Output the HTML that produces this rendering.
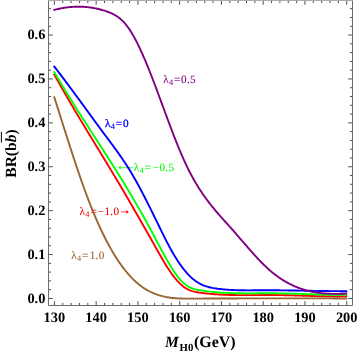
<!DOCTYPE html>
<html><head><meta charset="utf-8"><title>BR plot</title>
<style>
html,body{margin:0;padding:0;background:#fff;}
body{width:357px;height:353px;overflow:hidden;font-family:"Liberation Serif",serif;}
svg{display:block;will-change:transform;}
text{text-rendering:geometricPrecision;}
</style></head><body>
<svg width="357" height="353" viewBox="0 0 357 353">
<rect width="357" height="353" fill="#fff"/>
<text y="82.8" fill="#800080" stroke="#800080" stroke-width="0.08" font-family="Liberation Serif" font-size="11.2"><tspan x="163.21">λ</tspan><tspan x="169.00" dy="1.75" font-size="8.3" stroke-width="0.04">4</tspan><tspan x="174.10" dy="-1.75" stroke-width="0.08">=</tspan><tspan x="181.00" letter-spacing="0.3">0.5</tspan></text>
<text y="127.1" fill="#0000ff" stroke="#0000ff" stroke-width="0.3" font-family="Liberation Serif" font-size="11.2"><tspan x="104.91">λ</tspan><tspan x="110.70" dy="1.75" font-size="8.3" stroke-width="0.15">4</tspan><tspan x="115.80" dy="-1.75" stroke-width="0.3">=</tspan><tspan x="123.00" letter-spacing="0.3">0</tspan></text>
<text y="170.8" fill="#00ff00" stroke="#00ff00" stroke-width="0.08" font-family="Liberation Serif" font-size="11.2"><tspan x="133.71">λ</tspan><tspan x="139.50" dy="1.75" font-size="8.3" stroke-width="0.04">4</tspan><tspan x="144.60" dy="-1.75" stroke-width="0.08">=</tspan><tspan x="152.85" letter-spacing="0.3">−0.5</tspan></text>
<path d="M119.40,167.7 H132.80" stroke="#00ff00" stroke-width="0.8" fill="none"/><path d="M118.20,167.7 L121.20,165.60 L120.30,167.7 L121.20,169.80 Z" fill="#00ff00"/>
<text y="214.8" fill="#ff0000" stroke="#ff0000" stroke-width="0.08" font-family="Liberation Serif" font-size="11.2"><tspan x="79.51">λ</tspan><tspan x="85.30" dy="1.75" font-size="8.3" stroke-width="0.04">4</tspan><tspan x="90.40" dy="-1.75" stroke-width="0.08">=</tspan><tspan x="97.85" letter-spacing="0.3">−1.0</tspan></text>
<path d="M121.10,211.9 H127.70" stroke="#ff0000" stroke-width="0.8" fill="none"/><path d="M128.90,211.9 L125.90,209.80 L126.80,211.9 L125.90,214.00 Z" fill="#ff0000"/>
<text y="258.8" fill="#996633" stroke="#996633" stroke-width="0.08" font-family="Liberation Serif" font-size="11.2"><tspan x="71.21">λ</tspan><tspan x="77.00" dy="1.75" font-size="8.3" stroke-width="0.04">4</tspan><tspan x="82.10" dy="-1.75" stroke-width="0.08">=</tspan><tspan x="89.70" letter-spacing="0.3">1.0</tspan></text>
<path d="M54.3,74.59 L55.3,76.40 L56.3,78.20 L57.3,80.00 L58.3,81.78 L59.3,83.56 L60.3,85.33 L61.3,87.10 L62.3,88.85 L63.3,90.61 L64.3,92.35 L65.3,94.09 L66.3,95.82 L67.3,97.55 L68.3,99.27 L69.3,100.98 L70.3,102.69 L71.3,104.40 L72.3,106.10 L73.3,107.79 L74.3,109.48 L75.3,111.17 L76.3,112.85 L77.3,114.53 L78.3,116.21 L79.3,117.88 L80.3,119.55 L81.3,121.21 L82.3,122.87 L83.3,124.53 L84.3,126.19 L85.3,127.84 L86.3,129.50 L87.3,131.15 L88.3,132.79 L89.3,134.44 L90.3,136.09 L91.3,137.73 L92.3,139.37 L93.3,141.01 L94.3,142.65 L95.3,144.29 L96.3,145.93 L97.3,147.58 L98.3,149.22 L99.3,150.86 L100.3,152.50 L101.3,154.14 L102.3,155.78 L103.3,157.42 L104.3,159.07 L105.3,160.71 L106.3,162.36 L107.3,164.01 L108.3,165.66 L109.3,167.31 L110.3,168.97 L111.3,170.63 L112.3,172.29 L113.3,173.95 L114.3,175.62 L115.3,177.29 L116.3,178.96 L117.3,180.64 L118.3,182.32 L119.3,184.01 L120.3,185.69 L121.3,187.39 L122.3,189.08 L123.3,190.78 L124.3,192.49 L125.3,194.19 L126.3,195.91 L127.3,197.62 L128.3,199.34 L129.3,201.06 L130.3,202.78 L131.3,204.51 L132.3,206.24 L133.3,207.97 L134.3,209.70 L135.3,211.44 L136.3,213.18 L137.3,214.93 L138.3,216.67 L139.3,218.42 L140.3,220.17 L141.3,221.93 L142.3,223.68 L143.3,225.44 L144.3,227.20 L145.3,228.96 L146.3,230.73 L147.3,232.49 L148.3,234.26 L149.3,236.03 L150.3,237.80 L151.3,239.57 L152.3,241.35 L153.3,243.12 L154.3,244.90 L155.3,246.68 L156.3,248.46 L157.3,250.24 L158.3,252.01 L159.3,253.78 L160.3,255.53 L161.3,257.28 L162.3,259.00 L163.3,260.71 L164.3,262.38 L165.3,264.04 L166.3,265.66 L167.3,267.25 L168.3,268.80 L169.3,270.31 L170.3,271.78 L171.3,273.21 L172.3,274.59 L173.3,275.93 L174.3,277.23 L175.3,278.47 L176.3,279.67 L177.3,280.81 L178.3,281.90 L179.3,282.93 L180.3,283.91 L181.3,284.83 L182.3,285.69 L183.3,286.49 L184.3,287.22 L185.3,287.89 L186.3,288.50 L187.3,289.06 L188.3,289.56 L189.3,290.01 L190.3,290.42 L191.3,290.78 L192.3,291.11 L193.3,291.40 L194.3,291.66 L195.3,291.89 L196.3,292.09 L197.3,292.27 L198.3,292.44 L199.3,292.59 L200.3,292.73 L201.3,292.86 L202.3,292.99 L203.3,293.12 L204.3,293.23 L205.3,293.35 L206.3,293.46 L207.3,293.56 L208.3,293.66 L209.3,293.76 L210.3,293.85 L211.3,293.94 L212.3,294.03 L213.3,294.11 L214.3,294.18 L215.3,294.25 L216.3,294.32 L217.3,294.39 L218.3,294.45 L219.3,294.51 L220.3,294.57 L221.3,294.62 L222.3,294.67 L223.3,294.71 L224.3,294.76 L225.3,294.80 L226.3,294.83 L227.3,294.87 L228.3,294.90 L229.3,294.93 L230.3,294.96 L231.3,294.98 L232.3,295.01 L233.3,295.03 L234.3,295.04 L235.3,295.06 L236.3,295.08 L237.3,295.09 L238.3,295.10 L239.3,295.11 L240.3,295.12 L241.3,295.12 L242.3,295.13 L243.3,295.13 L244.3,295.13 L245.3,295.13 L246.3,295.13 L247.3,295.13 L248.3,295.13 L249.3,295.13 L250.3,295.12 L251.3,295.12 L252.3,295.11 L253.3,295.11 L254.3,295.10 L255.3,295.10 L256.3,295.09 L257.3,295.09 L258.3,295.08 L259.3,295.07 L260.3,295.07 L261.3,295.06 L262.3,295.06 L263.3,295.05 L264.3,295.05 L265.3,295.04 L266.3,295.04 L267.3,295.04 L268.3,295.04 L269.3,295.03 L270.3,295.03 L271.3,295.04 L272.3,295.04 L273.3,295.04 L274.3,295.05 L275.3,295.05 L276.3,295.06 L277.3,295.07 L278.3,295.08 L279.3,295.10 L280.3,295.11 L281.3,295.13 L282.3,295.14 L283.3,295.16 L284.3,295.18 L285.3,295.20 L286.3,295.22 L287.3,295.25 L288.3,295.27 L289.3,295.30 L290.3,295.32 L291.3,295.35 L292.3,295.38 L293.3,295.41 L294.3,295.44 L295.3,295.47 L296.3,295.50 L297.3,295.53 L298.3,295.56 L299.3,295.59 L300.3,295.62 L301.3,295.65 L302.3,295.68 L303.3,295.72 L304.3,295.75 L305.3,295.78 L306.3,295.81 L307.3,295.85 L308.3,295.88 L309.3,295.91 L310.3,295.94 L311.3,295.97 L312.3,296.00 L313.3,296.03 L314.3,296.06 L315.3,296.09 L316.3,296.12 L317.3,296.15 L318.3,296.17 L319.3,296.20 L320.3,296.22 L321.3,296.25 L322.3,296.27 L323.3,296.29 L324.3,296.31 L325.3,296.33 L326.3,296.35 L327.3,296.36 L328.3,296.38 L329.3,296.39 L330.3,296.40 L331.3,296.41 L332.3,296.42 L333.3,296.43 L334.3,296.43 L335.3,296.44 L336.3,296.44 L337.3,296.44 L338.3,296.43 L339.3,296.43 L340.3,296.42 L341.3,296.41 L342.3,296.40 L343.3,296.39 L344.3,296.37 L345.3,296.35 L346.3,296.33" fill="none" stroke="#ff0000" stroke-width="1.9" stroke-linejoin="round" stroke-linecap="square"/>
<path d="M54.3,72.08 L55.3,73.79 L56.3,75.50 L57.3,77.20 L58.3,78.89 L59.3,80.57 L60.3,82.25 L61.3,83.91 L62.3,85.58 L63.3,87.23 L64.3,88.88 L65.3,90.52 L66.3,92.16 L67.3,93.79 L68.3,95.41 L69.3,97.03 L70.3,98.65 L71.3,100.26 L72.3,101.86 L73.3,103.46 L74.3,105.06 L75.3,106.65 L76.3,108.24 L77.3,109.82 L78.3,111.40 L79.3,112.98 L80.3,114.55 L81.3,116.12 L82.3,117.69 L83.3,119.25 L84.3,120.82 L85.3,122.38 L86.3,123.94 L87.3,125.49 L88.3,127.05 L89.3,128.60 L90.3,130.16 L91.3,131.71 L92.3,133.26 L93.3,134.81 L94.3,136.36 L95.3,137.91 L96.3,139.46 L97.3,141.02 L98.3,142.57 L99.3,144.12 L100.3,145.67 L101.3,147.23 L102.3,148.78 L103.3,150.34 L104.3,151.90 L105.3,153.46 L106.3,155.02 L107.3,156.59 L108.3,158.16 L109.3,159.73 L110.3,161.30 L111.3,162.88 L112.3,164.46 L113.3,166.04 L114.3,167.63 L115.3,169.22 L116.3,170.81 L117.3,172.41 L118.3,174.02 L119.3,175.63 L120.3,177.24 L121.3,178.86 L122.3,180.48 L123.3,182.11 L124.3,183.75 L125.3,185.39 L126.3,187.04 L127.3,188.69 L128.3,190.36 L129.3,192.02 L130.3,193.70 L131.3,195.38 L132.3,197.07 L133.3,198.77 L134.3,200.47 L135.3,202.18 L136.3,203.91 L137.3,205.63 L138.3,207.37 L139.3,209.12 L140.3,210.88 L141.3,212.64 L142.3,214.42 L143.3,216.20 L144.3,217.99 L145.3,219.80 L146.3,221.61 L147.3,223.44 L148.3,225.27 L149.3,227.12 L150.3,228.98 L151.3,230.85 L152.3,232.73 L153.3,234.61 L154.3,236.51 L155.3,238.41 L156.3,240.31 L157.3,242.21 L158.3,244.10 L159.3,245.99 L160.3,247.87 L161.3,249.75 L162.3,251.60 L163.3,253.44 L164.3,255.27 L165.3,257.07 L166.3,258.85 L167.3,260.61 L168.3,262.33 L169.3,264.03 L170.3,265.69 L171.3,267.32 L172.3,268.90 L173.3,270.45 L174.3,271.94 L175.3,273.39 L176.3,274.79 L177.3,276.13 L178.3,277.42 L179.3,278.64 L180.3,279.80 L181.3,280.90 L182.3,281.92 L183.3,282.88 L184.3,283.75 L185.3,284.56 L186.3,285.29 L187.3,285.95 L188.3,286.55 L189.3,287.09 L190.3,287.57 L191.3,288.01 L192.3,288.40 L193.3,288.74 L194.3,289.05 L195.3,289.32 L196.3,289.57 L197.3,289.79 L198.3,289.98 L199.3,290.16 L200.3,290.33 L201.3,290.49 L202.3,290.64 L203.3,290.79 L204.3,290.93 L205.3,291.07 L206.3,291.20 L207.3,291.33 L208.3,291.45 L209.3,291.57 L210.3,291.68 L211.3,291.79 L212.3,291.89 L213.3,291.99 L214.3,292.08 L215.3,292.17 L216.3,292.26 L217.3,292.34 L218.3,292.42 L219.3,292.49 L220.3,292.56 L221.3,292.63 L222.3,292.69 L223.3,292.75 L224.3,292.80 L225.3,292.85 L226.3,292.90 L227.3,292.95 L228.3,292.99 L229.3,293.03 L230.3,293.07 L231.3,293.10 L232.3,293.13 L233.3,293.16 L234.3,293.18 L235.3,293.21 L236.3,293.23 L237.3,293.25 L238.3,293.27 L239.3,293.28 L240.3,293.29 L241.3,293.30 L242.3,293.31 L243.3,293.32 L244.3,293.33 L245.3,293.33 L246.3,293.34 L247.3,293.34 L248.3,293.34 L249.3,293.34 L250.3,293.34 L251.3,293.34 L252.3,293.34 L253.3,293.33 L254.3,293.33 L255.3,293.33 L256.3,293.32 L257.3,293.32 L258.3,293.31 L259.3,293.31 L260.3,293.31 L261.3,293.30 L262.3,293.30 L263.3,293.29 L264.3,293.29 L265.3,293.29 L266.3,293.28 L267.3,293.28 L268.3,293.28 L269.3,293.28 L270.3,293.28 L271.3,293.28 L272.3,293.29 L273.3,293.29 L274.3,293.30 L275.3,293.31 L276.3,293.31 L277.3,293.33 L278.3,293.34 L279.3,293.35 L280.3,293.37 L281.3,293.39 L282.3,293.40 L283.3,293.42 L284.3,293.45 L285.3,293.47 L286.3,293.49 L287.3,293.52 L288.3,293.54 L289.3,293.57 L290.3,293.60 L291.3,293.63 L292.3,293.66 L293.3,293.69 L294.3,293.72 L295.3,293.75 L296.3,293.78 L297.3,293.81 L298.3,293.85 L299.3,293.88 L300.3,293.91 L301.3,293.95 L302.3,293.98 L303.3,294.02 L304.3,294.05 L305.3,294.09 L306.3,294.12 L307.3,294.15 L308.3,294.19 L309.3,294.22 L310.3,294.25 L311.3,294.28 L312.3,294.32 L313.3,294.35 L314.3,294.38 L315.3,294.41 L316.3,294.44 L317.3,294.47 L318.3,294.49 L319.3,294.52 L320.3,294.55 L321.3,294.57 L322.3,294.59 L323.3,294.61 L324.3,294.63 L325.3,294.65 L326.3,294.67 L327.3,294.69 L328.3,294.70 L329.3,294.72 L330.3,294.73 L331.3,294.74 L332.3,294.74 L333.3,294.75 L334.3,294.75 L335.3,294.76 L336.3,294.75 L337.3,294.75 L338.3,294.75 L339.3,294.74 L340.3,294.73 L341.3,294.72 L342.3,294.71 L343.3,294.69 L344.3,294.67 L345.3,294.65 L346.3,294.62" fill="none" stroke="#00ff00" stroke-width="1.9" stroke-linejoin="round" stroke-linecap="square"/>
<path d="M54.3,66.59 L55.3,67.88 L56.3,69.17 L57.3,70.47 L58.3,71.77 L59.3,73.08 L60.3,74.39 L61.3,75.70 L62.3,77.02 L63.3,78.34 L64.3,79.67 L65.3,81.00 L66.3,82.33 L67.3,83.67 L68.3,85.01 L69.3,86.36 L70.3,87.70 L71.3,89.05 L72.3,90.40 L73.3,91.76 L74.3,93.11 L75.3,94.47 L76.3,95.83 L77.3,97.19 L78.3,98.56 L79.3,99.92 L80.3,101.29 L81.3,102.65 L82.3,104.02 L83.3,105.39 L84.3,106.76 L85.3,108.13 L86.3,109.50 L87.3,110.87 L88.3,112.25 L89.3,113.62 L90.3,114.99 L91.3,116.36 L92.3,117.73 L93.3,119.10 L94.3,120.46 L95.3,121.83 L96.3,123.20 L97.3,124.56 L98.3,125.92 L99.3,127.28 L100.3,128.64 L101.3,130.00 L102.3,131.35 L103.3,132.71 L104.3,134.06 L105.3,135.40 L106.3,136.75 L107.3,138.09 L108.3,139.43 L109.3,140.77 L110.3,142.11 L111.3,143.45 L112.3,144.79 L113.3,146.14 L114.3,147.50 L115.3,148.86 L116.3,150.23 L117.3,151.61 L118.3,153.01 L119.3,154.41 L120.3,155.83 L121.3,157.27 L122.3,158.72 L123.3,160.19 L124.3,161.68 L125.3,163.19 L126.3,164.73 L127.3,166.29 L128.3,167.87 L129.3,169.48 L130.3,171.11 L131.3,172.78 L132.3,174.47 L133.3,176.19 L134.3,177.93 L135.3,179.70 L136.3,181.49 L137.3,183.30 L138.3,185.13 L139.3,186.99 L140.3,188.86 L141.3,190.75 L142.3,192.66 L143.3,194.58 L144.3,196.52 L145.3,198.47 L146.3,200.44 L147.3,202.41 L148.3,204.40 L149.3,206.40 L150.3,208.41 L151.3,210.43 L152.3,212.45 L153.3,214.48 L154.3,216.52 L155.3,218.56 L156.3,220.60 L157.3,222.65 L158.3,224.69 L159.3,226.74 L160.3,228.78 L161.3,230.82 L162.3,232.85 L163.3,234.87 L164.3,236.87 L165.3,238.85 L166.3,240.81 L167.3,242.74 L168.3,244.65 L169.3,246.53 L170.3,248.37 L171.3,250.18 L172.3,251.94 L173.3,253.67 L174.3,255.36 L175.3,257.01 L176.3,258.62 L177.3,260.19 L178.3,261.72 L179.3,263.20 L180.3,264.64 L181.3,266.04 L182.3,267.40 L183.3,268.71 L184.3,269.98 L185.3,271.20 L186.3,272.38 L187.3,273.51 L188.3,274.59 L189.3,275.62 L190.3,276.61 L191.3,277.55 L192.3,278.43 L193.3,279.27 L194.3,280.06 L195.3,280.81 L196.3,281.50 L197.3,282.16 L198.3,282.77 L199.3,283.34 L200.3,283.87 L201.3,284.37 L202.3,284.83 L203.3,285.26 L204.3,285.66 L205.3,286.02 L206.3,286.36 L207.3,286.67 L208.3,286.96 L209.3,287.22 L210.3,287.46 L211.3,287.68 L212.3,287.89 L213.3,288.07 L214.3,288.25 L215.3,288.40 L216.3,288.55 L217.3,288.69 L218.3,288.82 L219.3,288.94 L220.3,289.06 L221.3,289.17 L222.3,289.27 L223.3,289.37 L224.3,289.46 L225.3,289.55 L226.3,289.63 L227.3,289.70 L228.3,289.77 L229.3,289.84 L230.3,289.90 L231.3,289.95 L232.3,290.00 L233.3,290.05 L234.3,290.09 L235.3,290.13 L236.3,290.16 L237.3,290.19 L238.3,290.22 L239.3,290.24 L240.3,290.26 L241.3,290.28 L242.3,290.29 L243.3,290.30 L244.3,290.31 L245.3,290.32 L246.3,290.33 L247.3,290.33 L248.3,290.33 L249.3,290.33 L250.3,290.33 L251.3,290.33 L252.3,290.32 L253.3,290.32 L254.3,290.31 L255.3,290.31 L256.3,290.30 L257.3,290.29 L258.3,290.29 L259.3,290.28 L260.3,290.28 L261.3,290.27 L262.3,290.27 L263.3,290.26 L264.3,290.26 L265.3,290.26 L266.3,290.26 L267.3,290.26 L268.3,290.26 L269.3,290.26 L270.3,290.26 L271.3,290.27 L272.3,290.27 L273.3,290.27 L274.3,290.28 L275.3,290.29 L276.3,290.29 L277.3,290.30 L278.3,290.31 L279.3,290.32 L280.3,290.33 L281.3,290.34 L282.3,290.35 L283.3,290.36 L284.3,290.37 L285.3,290.39 L286.3,290.40 L287.3,290.41 L288.3,290.43 L289.3,290.44 L290.3,290.46 L291.3,290.47 L292.3,290.49 L293.3,290.50 L294.3,290.52 L295.3,290.54 L296.3,290.55 L297.3,290.57 L298.3,290.59 L299.3,290.60 L300.3,290.62 L301.3,290.64 L302.3,290.65 L303.3,290.67 L304.3,290.69 L305.3,290.71 L306.3,290.73 L307.3,290.74 L308.3,290.76 L309.3,290.78 L310.3,290.80 L311.3,290.81 L312.3,290.83 L313.3,290.85 L314.3,290.87 L315.3,290.88 L316.3,290.90 L317.3,290.92 L318.3,290.93 L319.3,290.95 L320.3,290.96 L321.3,290.98 L322.3,290.99 L323.3,291.01 L324.3,291.02 L325.3,291.04 L326.3,291.05 L327.3,291.06 L328.3,291.07 L329.3,291.09 L330.3,291.10 L331.3,291.11 L332.3,291.12 L333.3,291.13 L334.3,291.14 L335.3,291.14 L336.3,291.15 L337.3,291.16 L338.3,291.16 L339.3,291.17 L340.3,291.18 L341.3,291.18 L342.3,291.18 L343.3,291.18 L344.3,291.19 L345.3,291.19 L346.3,291.19" fill="none" stroke="#0000ff" stroke-width="1.9" stroke-linejoin="round" stroke-linecap="square"/>
<path d="M54.3,9.93 L55.3,9.67 L56.3,9.42 L57.3,9.18 L58.3,8.96 L59.3,8.74 L60.3,8.53 L61.3,8.34 L62.3,8.15 L63.3,7.98 L64.3,7.81 L65.3,7.66 L66.3,7.52 L67.3,7.39 L68.3,7.27 L69.3,7.16 L70.3,7.06 L71.3,6.97 L72.3,6.90 L73.3,6.83 L74.3,6.78 L75.3,6.74 L76.3,6.70 L77.3,6.68 L78.3,6.68 L79.3,6.68 L80.3,6.69 L81.3,6.72 L82.3,6.76 L83.3,6.81 L84.3,6.87 L85.3,6.94 L86.3,7.03 L87.3,7.12 L88.3,7.23 L89.3,7.35 L90.3,7.49 L91.3,7.63 L92.3,7.79 L93.3,7.96 L94.3,8.14 L95.3,8.33 L96.3,8.54 L97.3,8.76 L98.3,8.99 L99.3,9.24 L100.3,9.49 L101.3,9.76 L102.3,10.04 L103.3,10.34 L104.3,10.65 L105.3,10.97 L106.3,11.30 L107.3,11.65 L108.3,12.01 L109.3,12.40 L110.3,12.81 L111.3,13.24 L112.3,13.70 L113.3,14.20 L114.3,14.73 L115.3,15.31 L116.3,15.92 L117.3,16.58 L118.3,17.29 L119.3,18.05 L120.3,18.86 L121.3,19.73 L122.3,20.66 L123.3,21.66 L124.3,22.72 L125.3,23.86 L126.3,25.07 L127.3,26.35 L128.3,27.71 L129.3,29.15 L130.3,30.66 L131.3,32.25 L132.3,33.90 L133.3,35.62 L134.3,37.41 L135.3,39.26 L136.3,41.16 L137.3,43.13 L138.3,45.15 L139.3,47.23 L140.3,49.36 L141.3,51.54 L142.3,53.76 L143.3,56.03 L144.3,58.35 L145.3,60.70 L146.3,63.10 L147.3,65.53 L148.3,67.99 L149.3,70.48 L150.3,73.01 L151.3,75.56 L152.3,78.14 L153.3,80.74 L154.3,83.36 L155.3,86.00 L156.3,88.66 L157.3,91.33 L158.3,94.02 L159.3,96.71 L160.3,99.41 L161.3,102.12 L162.3,104.83 L163.3,107.54 L164.3,110.25 L165.3,112.96 L166.3,115.66 L167.3,118.35 L168.3,121.03 L169.3,123.70 L170.3,126.36 L171.3,129.00 L172.3,131.62 L173.3,134.22 L174.3,136.80 L175.3,139.35 L176.3,141.88 L177.3,144.37 L178.3,146.84 L179.3,149.26 L180.3,151.66 L181.3,154.01 L182.3,156.32 L183.3,158.59 L184.3,160.82 L185.3,162.99 L186.3,165.12 L187.3,167.20 L188.3,169.23 L189.3,171.22 L190.3,173.15 L191.3,175.05 L192.3,176.90 L193.3,178.70 L194.3,180.47 L195.3,182.20 L196.3,183.89 L197.3,185.54 L198.3,187.16 L199.3,188.74 L200.3,190.29 L201.3,191.80 L202.3,193.29 L203.3,194.75 L204.3,196.17 L205.3,197.57 L206.3,198.95 L207.3,200.30 L208.3,201.62 L209.3,202.92 L210.3,204.21 L211.3,205.47 L212.3,206.71 L213.3,207.94 L214.3,209.15 L215.3,210.34 L216.3,211.52 L217.3,212.69 L218.3,213.85 L219.3,215.00 L220.3,216.14 L221.3,217.27 L222.3,218.39 L223.3,219.51 L224.3,220.63 L225.3,221.74 L226.3,222.85 L227.3,223.96 L228.3,225.07 L229.3,226.19 L230.3,227.31 L231.3,228.43 L232.3,229.56 L233.3,230.69 L234.3,231.84 L235.3,232.98 L236.3,234.13 L237.3,235.29 L238.3,236.44 L239.3,237.60 L240.3,238.76 L241.3,239.93 L242.3,241.09 L243.3,242.25 L244.3,243.41 L245.3,244.57 L246.3,245.72 L247.3,246.88 L248.3,248.02 L249.3,249.17 L250.3,250.30 L251.3,251.43 L252.3,252.56 L253.3,253.67 L254.3,254.78 L255.3,255.88 L256.3,256.97 L257.3,258.04 L258.3,259.11 L259.3,260.16 L260.3,261.20 L261.3,262.23 L262.3,263.24 L263.3,264.24 L264.3,265.22 L265.3,266.19 L266.3,267.14 L267.3,268.07 L268.3,268.98 L269.3,269.87 L270.3,270.75 L271.3,271.60 L272.3,272.43 L273.3,273.24 L274.3,274.04 L275.3,274.81 L276.3,275.56 L277.3,276.30 L278.3,277.01 L279.3,277.71 L280.3,278.39 L281.3,279.05 L282.3,279.70 L283.3,280.32 L284.3,280.93 L285.3,281.53 L286.3,282.10 L287.3,282.66 L288.3,283.20 L289.3,283.72 L290.3,284.23 L291.3,284.72 L292.3,285.20 L293.3,285.66 L294.3,286.11 L295.3,286.54 L296.3,286.96 L297.3,287.36 L298.3,287.75 L299.3,288.12 L300.3,288.48 L301.3,288.82 L302.3,289.15 L303.3,289.47 L304.3,289.78 L305.3,290.07 L306.3,290.35 L307.3,290.62 L308.3,290.87 L309.3,291.11 L310.3,291.34 L311.3,291.56 L312.3,291.77 L313.3,291.97 L314.3,292.15 L315.3,292.33 L316.3,292.49 L317.3,292.64 L318.3,292.79 L319.3,292.92 L320.3,293.04 L321.3,293.16 L322.3,293.26 L323.3,293.36 L324.3,293.45 L325.3,293.53 L326.3,293.60 L327.3,293.66 L328.3,293.71 L329.3,293.76 L330.3,293.80 L331.3,293.83 L332.3,293.85 L333.3,293.87 L334.3,293.88 L335.3,293.88 L336.3,293.88 L337.3,293.87 L338.3,293.86 L339.3,293.84 L340.3,293.81 L341.3,293.78 L342.3,293.75 L343.3,293.71 L344.3,293.66 L345.3,293.61 L346.3,293.56" fill="none" stroke="#800080" stroke-width="1.9" stroke-linejoin="round" stroke-linecap="square"/>
<path d="M54.3,97.27 L55.3,100.40 L56.3,103.55 L57.3,106.69 L58.3,109.85 L59.3,113.00 L60.3,116.16 L61.3,119.32 L62.3,122.47 L63.3,125.62 L64.3,128.77 L65.3,131.91 L66.3,135.05 L67.3,138.18 L68.3,141.30 L69.3,144.41 L70.3,147.50 L71.3,150.58 L72.3,153.65 L73.3,156.70 L74.3,159.73 L75.3,162.75 L76.3,165.74 L77.3,168.71 L78.3,171.66 L79.3,174.59 L80.3,177.49 L81.3,180.36 L82.3,183.20 L83.3,186.01 L84.3,188.79 L85.3,191.54 L86.3,194.26 L87.3,196.94 L88.3,199.58 L89.3,202.18 L90.3,204.75 L91.3,207.28 L92.3,209.76 L93.3,212.21 L94.3,214.61 L95.3,216.98 L96.3,219.31 L97.3,221.59 L98.3,223.84 L99.3,226.05 L100.3,228.22 L101.3,230.36 L102.3,232.45 L103.3,234.51 L104.3,236.53 L105.3,238.51 L106.3,240.45 L107.3,242.36 L108.3,244.23 L109.3,246.06 L110.3,247.86 L111.3,249.62 L112.3,251.34 L113.3,253.03 L114.3,254.68 L115.3,256.29 L116.3,257.87 L117.3,259.41 L118.3,260.92 L119.3,262.39 L120.3,263.83 L121.3,265.23 L122.3,266.60 L123.3,267.93 L124.3,269.23 L125.3,270.50 L126.3,271.73 L127.3,272.93 L128.3,274.09 L129.3,275.22 L130.3,276.32 L131.3,277.38 L132.3,278.42 L133.3,279.41 L134.3,280.38 L135.3,281.31 L136.3,282.22 L137.3,283.09 L138.3,283.92 L139.3,284.73 L140.3,285.51 L141.3,286.26 L142.3,286.98 L143.3,287.67 L144.3,288.34 L145.3,288.97 L146.3,289.58 L147.3,290.17 L148.3,290.72 L149.3,291.26 L150.3,291.77 L151.3,292.25 L152.3,292.72 L153.3,293.15 L154.3,293.57 L155.3,293.97 L156.3,294.34 L157.3,294.70 L158.3,295.03 L159.3,295.35 L160.3,295.64 L161.3,295.92 L162.3,296.18 L163.3,296.43 L164.3,296.65 L165.3,296.87 L166.3,297.06 L167.3,297.24 L168.3,297.41 L169.3,297.56 L170.3,297.70 L171.3,297.83 L172.3,297.95 L173.3,298.05 L174.3,298.15 L175.3,298.23 L176.3,298.30 L177.3,298.37 L178.3,298.42 L179.3,298.47 L180.3,298.51 L181.3,298.55 L182.3,298.57 L183.3,298.59 L184.3,298.61 L185.3,298.62 L186.3,298.63 L187.3,298.63 L188.3,298.64 L189.3,298.64 L190.3,298.63 L191.3,298.63 L192.3,298.62 L193.3,298.62 L194.3,298.61 L195.3,298.61 L196.3,298.60 L197.3,298.60 L198.3,298.59 L199.3,298.59 L200.3,298.59 L201.3,298.58 L202.3,298.58 L203.3,298.57 L204.3,298.57 L205.3,298.56 L206.3,298.56 L207.3,298.55 L208.3,298.55 L209.3,298.54 L210.3,298.54 L211.3,298.53 L212.3,298.53 L213.3,298.52 L214.3,298.52 L215.3,298.52 L216.3,298.51 L217.3,298.51 L218.3,298.50 L219.3,298.50 L220.3,298.49 L221.3,298.49 L222.3,298.49 L223.3,298.48 L224.3,298.48 L225.3,298.47 L226.3,298.47 L227.3,298.47 L228.3,298.46 L229.3,298.46 L230.3,298.45 L231.3,298.45 L232.3,298.45 L233.3,298.44 L234.3,298.44 L235.3,298.43 L236.3,298.43 L237.3,298.43 L238.3,298.42 L239.3,298.42 L240.3,298.42 L241.3,298.41 L242.3,298.41 L243.3,298.41 L244.3,298.40 L245.3,298.40 L246.3,298.40 L247.3,298.39 L248.3,298.39 L249.3,298.39 L250.3,298.39 L251.3,298.38 L252.3,298.38 L253.3,298.38 L254.3,298.37 L255.3,298.37 L256.3,298.37 L257.3,298.37 L258.3,298.36 L259.3,298.36 L260.3,298.36 L261.3,298.36 L262.3,298.36 L263.3,298.35 L264.3,298.35 L265.3,298.35 L266.3,298.35 L267.3,298.35 L268.3,298.34 L269.3,298.34 L270.3,298.34 L271.3,298.34 L272.3,298.34 L273.3,298.34 L274.3,298.34 L275.3,298.33 L276.3,298.33 L277.3,298.33 L278.3,298.33 L279.3,298.33 L280.3,298.33 L281.3,298.33 L282.3,298.33 L283.3,298.33 L284.3,298.33 L285.3,298.33 L286.3,298.33 L287.3,298.33 L288.3,298.33 L289.3,298.33 L290.3,298.33 L291.3,298.33 L292.3,298.33 L293.3,298.33 L294.3,298.33 L295.3,298.33 L296.3,298.33 L297.3,298.33 L298.3,298.33 L299.3,298.33 L300.3,298.33 L301.3,298.33 L302.3,298.33 L303.3,298.34 L304.3,298.34 L305.3,298.34 L306.3,298.34 L307.3,298.34 L308.3,298.34 L309.3,298.35 L310.3,298.35 L311.3,298.35 L312.3,298.35 L313.3,298.36 L314.3,298.36 L315.3,298.36 L316.3,298.36 L317.3,298.37 L318.3,298.37 L319.3,298.37 L320.3,298.38 L321.3,298.38 L322.3,298.38 L323.3,298.39 L324.3,298.39 L325.3,298.39 L326.3,298.40 L327.3,298.40 L328.3,298.41 L329.3,298.41 L330.3,298.41 L331.3,298.42 L332.3,298.42 L333.3,298.43 L334.3,298.43 L335.3,298.44 L336.3,298.44 L337.3,298.45 L338.3,298.46 L339.3,298.46 L340.3,298.47 L341.3,298.47 L342.3,298.48 L343.3,298.48 L344.3,298.49 L345.3,298.50 L346.3,298.50" fill="none" stroke="#996633" stroke-width="1.9" stroke-linejoin="round" stroke-linecap="square"/>
<path d="M54.4,305.5 v-4.3 M54.4,0.5 v4.3 M62.75,305.5 v-2.6 M62.75,0.5 v2.6 M71.1,305.5 v-2.6 M71.1,0.5 v2.6 M79.46,305.5 v-2.6 M79.46,0.5 v2.6 M87.81,305.5 v-2.6 M87.81,0.5 v2.6 M96.16,305.5 v-4.3 M96.16,0.5 v4.3 M104.51,305.5 v-2.6 M104.51,0.5 v2.6 M112.86,305.5 v-2.6 M112.86,0.5 v2.6 M121.22,305.5 v-2.6 M121.22,0.5 v2.6 M129.57,305.5 v-2.6 M129.57,0.5 v2.6 M137.92,305.5 v-4.3 M137.92,0.5 v4.3 M146.27,305.5 v-2.6 M146.27,0.5 v2.6 M154.62,305.5 v-2.6 M154.62,0.5 v2.6 M162.98,305.5 v-2.6 M162.98,0.5 v2.6 M171.33,305.5 v-2.6 M171.33,0.5 v2.6 M179.68,305.5 v-4.3 M179.68,0.5 v4.3 M188.03,305.5 v-2.6 M188.03,0.5 v2.6 M196.38,305.5 v-2.6 M196.38,0.5 v2.6 M204.74,305.5 v-2.6 M204.74,0.5 v2.6 M213.09,305.5 v-2.6 M213.09,0.5 v2.6 M221.44,305.5 v-4.3 M221.44,0.5 v4.3 M229.79,305.5 v-2.6 M229.79,0.5 v2.6 M238.14,305.5 v-2.6 M238.14,0.5 v2.6 M246.5,305.5 v-2.6 M246.5,0.5 v2.6 M254.85,305.5 v-2.6 M254.85,0.5 v2.6 M263.2,305.5 v-4.3 M263.2,0.5 v4.3 M271.55,305.5 v-2.6 M271.55,0.5 v2.6 M279.9,305.5 v-2.6 M279.9,0.5 v2.6 M288.26,305.5 v-2.6 M288.26,0.5 v2.6 M296.61,305.5 v-2.6 M296.61,0.5 v2.6 M304.96,305.5 v-4.3 M304.96,0.5 v4.3 M313.31,305.5 v-2.6 M313.31,0.5 v2.6 M321.66,305.5 v-2.6 M321.66,0.5 v2.6 M330.02,305.5 v-2.6 M330.02,0.5 v2.6 M338.37,305.5 v-2.6 M338.37,0.5 v2.6 M346.72,305.5 v-4.3 M346.72,0.5 v4.3 M48.5,298.45 h4.3 M352.5,298.45 h-4.3 M48.5,289.67 h2.6 M352.5,289.67 h-2.6 M48.5,280.89 h2.6 M352.5,280.89 h-2.6 M48.5,272.11 h2.6 M352.5,272.11 h-2.6 M48.5,263.33 h2.6 M352.5,263.33 h-2.6 M48.5,254.55 h4.3 M352.5,254.55 h-4.3 M48.5,245.77 h2.6 M352.5,245.77 h-2.6 M48.5,236.99 h2.6 M352.5,236.99 h-2.6 M48.5,228.21 h2.6 M352.5,228.21 h-2.6 M48.5,219.43 h2.6 M352.5,219.43 h-2.6 M48.5,210.65 h4.3 M352.5,210.65 h-4.3 M48.5,201.87 h2.6 M352.5,201.87 h-2.6 M48.5,193.09 h2.6 M352.5,193.09 h-2.6 M48.5,184.31 h2.6 M352.5,184.31 h-2.6 M48.5,175.53 h2.6 M352.5,175.53 h-2.6 M48.5,166.75 h4.3 M352.5,166.75 h-4.3 M48.5,157.97 h2.6 M352.5,157.97 h-2.6 M48.5,149.19 h2.6 M352.5,149.19 h-2.6 M48.5,140.41 h2.6 M352.5,140.41 h-2.6 M48.5,131.63 h2.6 M352.5,131.63 h-2.6 M48.5,122.85 h4.3 M352.5,122.85 h-4.3 M48.5,114.07 h2.6 M352.5,114.07 h-2.6 M48.5,105.29 h2.6 M352.5,105.29 h-2.6 M48.5,96.51 h2.6 M352.5,96.51 h-2.6 M48.5,87.73 h2.6 M352.5,87.73 h-2.6 M48.5,78.95 h4.3 M352.5,78.95 h-4.3 M48.5,70.17 h2.6 M352.5,70.17 h-2.6 M48.5,61.39 h2.6 M352.5,61.39 h-2.6 M48.5,52.61 h2.6 M352.5,52.61 h-2.6 M48.5,43.83 h2.6 M352.5,43.83 h-2.6 M48.5,35.05 h4.3 M352.5,35.05 h-4.3 M48.5,26.27 h2.6 M352.5,26.27 h-2.6 M48.5,17.49 h2.6 M352.5,17.49 h-2.6 M48.5,8.71 h2.6 M352.5,8.71 h-2.6" fill="none" stroke="#505050" stroke-width="1"/>
<path d="M48.5,0.5 V305.5 H352.5 V0.5" fill="none" stroke="#6c6c6c" stroke-width="1" stroke-linejoin="miter"/>
<path d="M48.0,0.5 H353.0" fill="none" stroke="#aaa" stroke-width="1"/>
<text x="54.40" y="322" text-anchor="middle" font-family="Liberation Serif" font-weight="bold" font-size="14.4">130</text>
<text x="96.16" y="322" text-anchor="middle" font-family="Liberation Serif" font-weight="bold" font-size="14.4">140</text>
<text x="137.92" y="322" text-anchor="middle" font-family="Liberation Serif" font-weight="bold" font-size="14.4">150</text>
<text x="179.68" y="322" text-anchor="middle" font-family="Liberation Serif" font-weight="bold" font-size="14.4">160</text>
<text x="221.44" y="322" text-anchor="middle" font-family="Liberation Serif" font-weight="bold" font-size="14.4">170</text>
<text x="263.20" y="322" text-anchor="middle" font-family="Liberation Serif" font-weight="bold" font-size="14.4">180</text>
<text x="304.96" y="322" text-anchor="middle" font-family="Liberation Serif" font-weight="bold" font-size="14.4">190</text>
<text x="346.72" y="322" text-anchor="middle" font-family="Liberation Serif" font-weight="bold" font-size="14.4">200</text>
<text x="45.4" y="302.55" text-anchor="end" font-family="Liberation Serif" font-weight="bold" font-size="14.4">0.0</text>
<text x="45.4" y="258.65" text-anchor="end" font-family="Liberation Serif" font-weight="bold" font-size="14.4">0.1</text>
<text x="45.4" y="214.75" text-anchor="end" font-family="Liberation Serif" font-weight="bold" font-size="14.4">0.2</text>
<text x="45.4" y="170.85" text-anchor="end" font-family="Liberation Serif" font-weight="bold" font-size="14.4">0.3</text>
<text x="45.4" y="126.95" text-anchor="end" font-family="Liberation Serif" font-weight="bold" font-size="14.4">0.4</text>
<text x="45.4" y="83.05" text-anchor="end" font-family="Liberation Serif" font-weight="bold" font-size="14.4">0.5</text>
<text x="45.4" y="39.15" text-anchor="end" font-family="Liberation Serif" font-weight="bold" font-size="14.4">0.6</text>
<text y="347.3" font-family="Liberation Serif" font-weight="bold" font-size="16"><tspan x="164.9" font-style="italic" font-size="15.5">M</tspan><tspan x="179.5" font-size="10.8" dy="3.3">H0</tspan><tspan x="193.9" dy="-3.3">(GeV)</tspan></text>
<g transform="translate(16.1,177.7) rotate(-90)"><text x="0" y="0" font-family="Liberation Serif" font-weight="bold" font-size="15.5">BR(b<tspan font-style="italic">b</tspan>)</text><path d="M35.1,-14.7 H45.9" stroke="#000" stroke-width="1" fill="none"/></g>
</svg>
</body></html>
